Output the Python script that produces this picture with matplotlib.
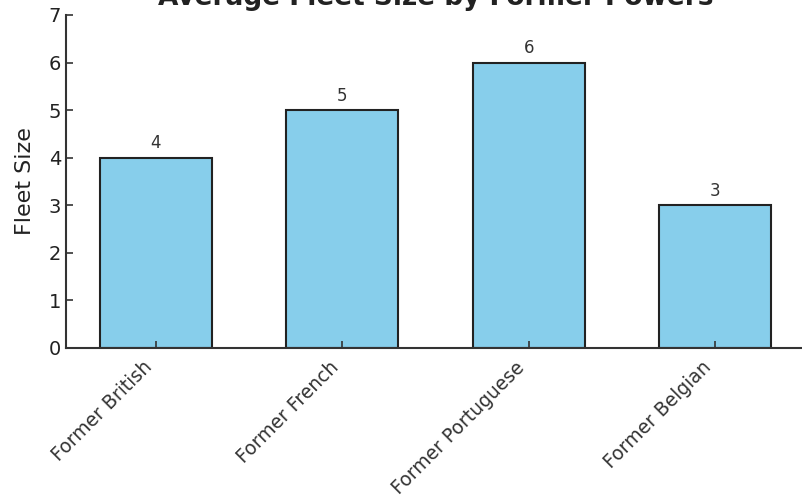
import matplotlib
matplotlib.use("Agg")
import matplotlib.pyplot as plt

categories = ["Former British", "Former French", "Former Portuguese", "Former Belgian"]
fleet_sizes = [4, 5, 6, 3]

fig = plt.figure(figsize=(8.02, 4.96), dpi=100)
ax = fig.add_axes([0.0823, 0.2984, 0.9214, 0.6714])

bars = ax.bar(categories, fleet_sizes, width=0.6, color="skyblue",
              edgecolor="#222222", linewidth=1.5)
for rect, val in zip(bars, fleet_sizes):
    ax.annotate(f"{val}", (rect.get_x() + rect.get_width() / 2, val),
                xytext=(0, 4), textcoords="offset points",
                ha="center", va="bottom", fontsize=12, color="#333333")

ax.set_ylim(0, 7)
ax.set_ylabel("Fleet Size", fontsize=16, color="#222222", labelpad=10)
ax.set_title("Average Fleet Size by Former Powers", fontsize=19, fontweight="bold",
             color="#222222", pad=7)

for side in ("top", "right"):
    ax.spines[side].set_visible(False)
for side in ("left", "bottom"):
    ax.spines[side].set_color("#333333")
    ax.spines[side].set_linewidth(1.5)

ax.tick_params(direction="in", length=5, width=1.2, color="#333333")
ax.tick_params(axis="y", labelsize=14, labelcolor="#222222")
ax.tick_params(axis="x", labelsize=13.5, labelcolor="#333333", pad=7)
plt.setp(ax.get_xticklabels(), rotation=45, ha="right")

fig.savefig("out.png", dpi=100)
